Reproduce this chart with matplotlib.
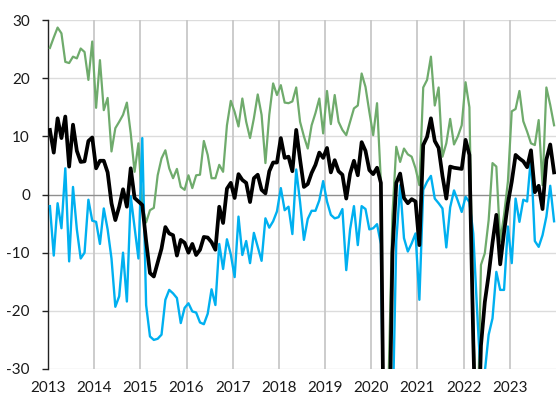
import numpy as np
import matplotlib
matplotlib.use("Agg")
import matplotlib.pyplot as plt

plt.rcParams['font.family'] = ['Lato', 'DejaVu Sans']
plt.rcParams['axes.unicode_minus'] = False

start_year = 2013
years = list(range(2013, 2024))
yticks = [-30, -20, -10, 0, 10, 20, 30]

green = [
    25.2, 27.0, 28.7, 27.7, 22.8, 22.6, 23.7, 23.4, 25.1, 24.5, 19.7, 26.3,
    14.9, 23.1, 14.5, 16.6, 7.4, 11.4, 12.5, 13.7, 15.8, 10.5, 3.9, 8.8,
    -2.0, -4.8, -2.7, -2.3, 3.3, 6.2, 7.6, 4.5, 2.8, 4.4, 1.3, 0.8,
    3.3, 1.1, 3.3, 3.4, 9.2, 6.8, 2.8, 2.8, 5.1, 3.9, 11.9, 16.1,
    14.2, 11.7, 16.5, 12.5, 9.7, 13.1, 17.2, 13.7, 5.4, 13.7, 19.1, 17.1,
    18.8, 15.8, 15.7, 16.0, 18.4, 12.5, 10.0, 7.9, 11.9, 14.0, 16.5, 10.5,
    17.8, 12.1, 17.1, 12.5, 11.1, 10.2, 12.5, 14.8, 15.3, 20.8, 18.5, 14.2,
    10.2, 15.7, 2.2, -60.0, -32.0, -3.5, 8.2, 5.6, 7.9, 6.9, 6.5, 4.5,
    1.6, 18.4, 19.7, 23.7, 15.3, 18.4, 6.5, 8.8, 13.0, 8.6, 10.0, 11.9,
    19.3, 15.0, -22.0, -45.0, -12.1, -10.1, -4.4, 5.4, 4.8, -8.1, -3.5, 2.2,
    14.3, 14.7, 17.8, 12.6, 10.8, 8.8, 8.5, 12.8, 1.6, 18.4, 15.4, 11.9,
]

black = [
    11.1, 7.2, 13.1, 9.7, 13.4, 4.8, 12.0, 7.5, 5.6, 5.7, 9.2, 9.8,
    4.5, 5.8, 5.8, 3.8, -1.5, -4.4, -2.1, 0.9, -2.1, 4.5, -0.6, -1.2,
    -1.8, -8.0, -13.5, -14.1, -11.7, -9.3, -5.6, -6.7, -7.0, -10.5, -7.8, -8.3,
    -10.0, -8.5, -10.4, -9.5, -7.3, -7.4, -8.2, -9.5, -2.1, -4.9, 1.0, 2.0,
    -0.6, 3.5, 2.5, 2.0, -1.3, 2.8, 3.4, 0.8, 0.2, 4.0, 5.5, 5.5,
    9.7, 6.3, 6.5, 4.0, 11.1, 6.0, 1.3, 1.8, 3.7, 5.1, 7.2, 6.3,
    8.0, 3.8, 5.9, 4.0, 3.4, -0.7, 3.6, 5.8, 3.3, 9.0, 7.5, 4.2,
    3.5, 4.6, 2.0, -60.0, -50.0, -10.0, 2.0, 3.6, -0.6, -1.5, -0.8, -1.2,
    -8.7, 8.5, 9.9, 13.1, 9.2, 8.0, 3.2, -0.7, 4.8, 4.6, 4.5, 4.4,
    9.4, 6.8, -25.0, -50.0, -26.0, -18.5, -13.8, -8.3, -3.5, -12.0, -6.5, -1.5,
    2.2, 6.8, 6.2, 5.7, 4.7, 7.6, 0.4, 1.5, -2.5, 6.0, 8.6, 3.8,
]

blue = [
    -2.0, -10.5, -1.5, -5.8, 4.5, -11.5, 1.3, -6.0, -11.0, -10.0, -0.9, -4.5,
    -4.7, -8.5, -2.4, -6.0, -11.0, -19.3, -17.5, -10.0, -18.4, -0.3, -5.7, -11.0,
    9.7, -19.0, -24.4, -25.0, -24.8, -24.1, -18.1, -16.4, -17.0, -17.8, -22.1, -19.5,
    -18.7, -20.1, -20.3, -22.0, -22.3, -20.5, -16.3, -19.0, -8.5, -12.8, -7.7, -10.3,
    -14.2, -3.8, -10.4, -8.0, -11.8, -6.6, -9.0, -11.4, -4.1, -5.7, -4.6, -2.9,
    1.1, -2.7, -2.1, -6.8, 4.3, -1.3, -7.8, -4.2, -2.8, -2.8, -1.0, 2.3,
    -1.2, -3.5, -4.1, -3.9, -2.5, -13.0, -6.0, -2.0, -8.7, -2.0, -2.5, -6.0,
    -5.8, -5.1, -8.5, -60.0, -60.0, -40.0, -8.0, 1.6, -7.5, -9.8, -8.4, -6.7,
    -18.1, 0.8, 2.2, 3.2, -0.7, -1.5, -2.4, -9.1, -2.2, 0.7, -1.1, -3.0,
    -0.4, -1.3, -6.7, -20.0, -32.0, -30.5, -24.1, -21.3, -13.3, -16.4, -16.4, -5.5,
    -11.8, -0.7, -4.7, -0.9, -1.2, 6.5, -8.0, -9.0, -7.0, -3.8, 1.5, -4.6,
]

n = len(black)
x = start_year + (np.arange(n) + 0.5) / 12.0

fig = plt.figure(figsize=(5.56, 4.0), dpi=100)
ax = fig.add_axes([0.0863, 0.0775, 0.9137, 0.8725])

ax.set_xlim(2013, 2024)
ax.set_ylim(-30, 30)

for yv in yticks:
    if yv == 0:
        ax.axhline(yv, color='#8f8f8f', lw=1.0, zorder=1.5)
    else:
        ax.axhline(yv, color='#dcdcdc', lw=1.0, zorder=1)
for yr in years[1:]:
    ax.axvline(yr, color='#c8c8c8', lw=1.3, zorder=1)

ax.plot(x, green, color='#6fab6c', lw=1.6, zorder=3)
ax.plot(x, blue, color='#00b0f0', lw=1.7, zorder=4)
ax.plot(x, black, color='#000000', lw=2.7, zorder=5)

ax.set_yticks(yticks)
ax.set_yticklabels([str(v) for v in yticks])
ax.set_xticks(years)
ax.set_xticklabels([str(y) for y in years])

for s in ['top', 'right', 'bottom']:
    ax.spines[s].set_visible(False)
ax.spines['left'].set_color('#222222')
ax.spines['left'].set_linewidth(1.0)
ax.tick_params(axis='y', length=4, width=1.0, color='#222222', pad=9,
               labelsize=11, labelcolor='#1a1a1a')
ax.tick_params(axis='x', length=0, pad=9, labelsize=11, labelcolor='#1a1a1a')

fig.savefig('out.png', dpi=100)
